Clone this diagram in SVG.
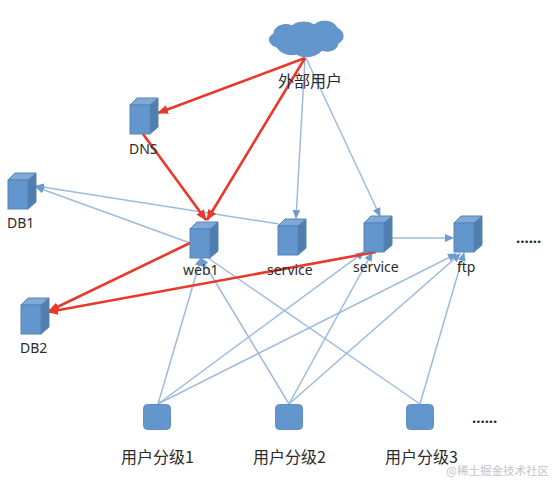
<svg xmlns="http://www.w3.org/2000/svg" width="554" height="481" viewBox="0 0 554 481">
<style>
text{font-family:"Noto Sans","Liberation Sans","Noto Sans CJK SC",sans-serif;font-size:14px;fill:#2b2b2b}
.cn{font-family:"Noto Sans CJK SC","Noto Sans",sans-serif;font-size:16px}
.wm{font-family:"Noto Sans CJK SC","Noto Sans",sans-serif;font-size:11.500px;fill:#c4c4c4}
.dots{font-weight:700;font-size:15px}
.front{fill:#6396cd;stroke:#5584b8;stroke-width:1}
.top{fill:#80a9d8;stroke:#5584b8;stroke-width:1}
.side{fill:#4f7eaf;stroke:#5584b8;stroke-width:1}
.sq{fill:#6396cd;stroke:#5f8fc4;stroke-width:1}
.blue{stroke:#9dbbdd;stroke-width:1.5;fill:none}
.red{stroke:#e8392c;stroke-width:2.6;fill:none}
</style>
<defs>
<marker id="ab" markerWidth="9" markerHeight="8" refX="8" refY="4" orient="auto" markerUnits="userSpaceOnUse"><path d="M0 0L9 4L0 8Z" fill="#6c9bd0"/></marker>
<marker id="ar" markerWidth="11" markerHeight="9" refX="10" refY="4.500" orient="auto" markerUnits="userSpaceOnUse"><path d="M0 0L11 4.500L0 9Z" fill="#e8392c"/></marker>
<g id="cube"><path class="side" d="M20 7L28 0V29L20 36Z"/><path class="top" d="M0 7L7 0H28L20 7Z"/><rect class="front" x="0" y="7" width="20" height="29"/></g>
</defs>
<g id="connectors">
<path class="blue" marker-end="url(#ab)" d="M305 58L296 218"/>
<path class="blue" marker-end="url(#ab)" d="M306 58L380 216"/>
<path class="blue" marker-end="url(#ab)" d="M279 224L36 186"/>
<path class="blue" marker-end="url(#ab)" d="M190 243L36 187"/>
<path class="blue" marker-end="url(#ab)" d="M384 238L453 238"/>
<path class="blue" marker-end="url(#ab)" d="M158 404L201 258"/>
<path class="blue" marker-end="url(#ab)" d="M158 404L364 252"/>
<path class="blue" marker-end="url(#ab)" d="M158 404L456 254"/>
<path class="blue" marker-end="url(#ab)" d="M289 404L201 258"/>
<path class="blue" marker-end="url(#ab)" d="M289 404L372 253"/>
<path class="blue" marker-end="url(#ab)" d="M289 404L460 254"/>
<path class="blue" d="M420 404L208 258"/>
<path class="blue" marker-end="url(#ab)" d="M420 404L464 253"/>
<path class="red" marker-end="url(#ar)" d="M305 58L158 113"/>
<path class="red" marker-end="url(#ar)" d="M305 58L207 220"/>
<path class="red" marker-end="url(#ar)" d="M143 134L206 220"/>
<path class="red" marker-end="url(#ar)" d="M190 243L49 311"/>
<path class="red" marker-end="url(#ar)" d="M376 252L48 312"/>
</g>
<g id="cloud"><path d="M277 47C268 45 267 36 274 34C273 27 284 22 292 26C297 21 309 21 314 25C320 19 334 20 337 28C345 31 345 41 338 43C338 50 328 53 322 50C317 57 302 59 297 54C289 56 280 53 277 47Z" fill="#6396cd" stroke="#5f8fc4"/><text class="cn" x="278" y="87">外部用户</text></g>
<g id="dns"><use href="#cube" x="130" y="98"/><text x="129" y="154">DNS</text></g>
<g id="db1"><use href="#cube" x="8" y="173"/><text x="7" y="228">DB1</text></g>
<g id="web1"><use href="#cube" x="190" y="222"/><text x="183" y="275">web1</text></g>
<g id="db2"><use href="#cube" x="21" y="298"/><text x="20" y="353">DB2</text></g>
<g id="service1"><use href="#cube" x="278" y="219"/><text x="267" y="275">service</text></g>
<g id="service2"><use href="#cube" x="364" y="216"/><text x="353" y="272">service</text></g>
<g id="ftp"><use href="#cube" x="454" y="216"/><text x="457" y="272">ftp</text></g>
<g id="more1"><text class="dots" x="516" y="243">......</text></g>
<g id="group1"><rect class="sq" x="143.500" y="404.500" width="27" height="25" rx="4"/><text class="cn" x="121" y="463">用户分级1</text></g>
<g id="group2"><rect class="sq" x="275.500" y="404.500" width="27" height="25" rx="4"/><text class="cn" x="253" y="463">用户分级2</text></g>
<g id="group3"><rect class="sq" x="406.500" y="404.500" width="27" height="25" rx="4"/><text class="cn" x="385" y="463">用户分级3</text></g>
<g id="more2"><text class="dots" x="472" y="423">......</text></g>
<text class="wm" x="446" y="475">@稀土掘金技术社区</text>
</svg>
